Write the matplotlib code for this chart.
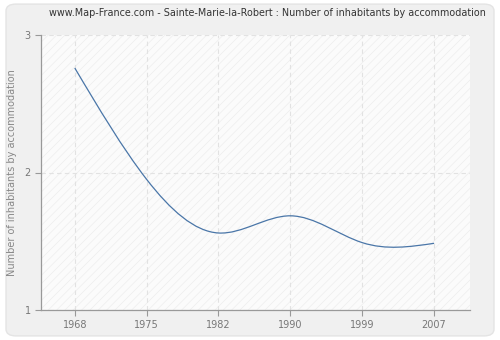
import matplotlib
matplotlib.use("Agg")
import matplotlib.pyplot as plt
from matplotlib.path import Path
from matplotlib.patches import PathPatch, FancyBboxPatch
import numpy as np

years = ["1968", "1975", "1982", "1990", "1999", "2007"]
values = [2.76, 1.95, 1.56, 1.685, 1.49, 1.485]
yticks = [1, 2, 3]

plt.rcParams["hatch.linewidth"] = 0.5
fig = plt.figure(figsize=(5, 3.4), dpi=100)
fig.patch.set_facecolor("white")
bg = FancyBboxPatch((0.012, 0.012), 0.976, 0.976, boxstyle="round,pad=0,rounding_size=0.02",
                    transform=fig.transFigure, facecolor="#f0f0f0", edgecolor="#e4e4e4",
                    linewidth=1, zorder=-10)
fig.patches.append(bg)

ax = fig.add_axes([41/500, 1 - 310/340, (470 - 41)/500, (310 - 35)/340])
ax.set_facecolor("#fbfbfb")
ax.patch.set_hatch("////")
ax.patch.set_edgecolor("#ededed")
ax.patch.set_linewidth(0)

x = np.arange(len(years))
y = np.asarray(values, dtype=float)
n = len(y)
# natural cubic spline drawn as Bezier segments through the data points
A = np.zeros((n, n))
b = np.zeros(n)
A[0, 0] = 1
A[-1, -1] = 1
for i in range(1, n - 1):
    A[i, i - 1], A[i, i], A[i, i + 1] = 1, 4, 1
    b[i] = 6 * (y[i + 1] - 2 * y[i] + y[i - 1])
M = np.linalg.solve(A, b)
d = np.zeros(n)
for i in range(n - 1):
    d[i] = (y[i + 1] - y[i]) - (2 * M[i] + M[i + 1]) / 6
d[-1] = (y[-1] - y[-2]) + (M[-2] + 2 * M[-1]) / 6

verts = [(x[0], y[0])]
codes = [Path.MOVETO]
for i in range(n - 1):
    verts += [(x[i] + 1/3, y[i] + d[i] / 3), (x[i + 1] - 1/3, y[i + 1] - d[i + 1] / 3),
              (x[i + 1], y[i + 1])]
    codes += [Path.CURVE4] * 3
ax.add_patch(PathPatch(Path(verts, codes), facecolor="none", edgecolor="#4a76a8",
                       linewidth=0.9, zorder=3))

ax.set_xlim(-0.47, 5.5)
ax.set_ylim(1, 3)
ax.set_xticks(x)
ax.set_xticklabels(years)
ax.set_yticks(yticks)

ax.grid(True, color="#e2e2e2", linestyle=(0, (4, 3)), linewidth=0.8)
ax.set_axisbelow(True)

for s in ["top", "right"]:
    ax.spines[s].set_visible(False)
for s in ["left", "bottom"]:
    ax.spines[s].set_color("#999999")
    ax.spines[s].set_linewidth(0.9)

ax.tick_params(axis="both", colors="#999999", labelcolor="#777777", labelsize=7,
               length=4, width=0.8)
ax.set_ylabel("Number of inhabitants by accommodation", color="#888888", fontsize=7, labelpad=5)
fig.text(0.535, 0.962, "www.Map-France.com - Sainte-Marie-la-Robert : Number of inhabitants by accommodation",
         ha="center", va="center", fontsize=6.9, color="#333333")

fig.savefig("out.png", dpi=100, facecolor=fig.get_facecolor())
